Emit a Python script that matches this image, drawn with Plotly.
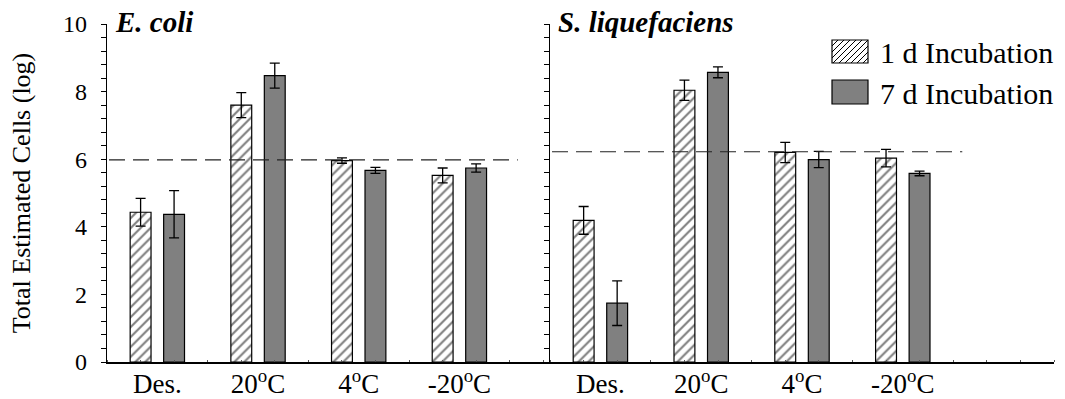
import plotly.graph_objects as go

# ---------------- data ----------------
categories = ["Des.", "20<sup>o</sup>C", "4<sup>o</sup>C", "-20<sup>o</sup>C"]
series_names = ["1 d Incubation", "7 d Incubation"]

ecoli_1d = [4.43, 7.60, 5.96, 5.52]
ecoli_1d_err = [0.41, 0.37, 0.08, 0.22]
ecoli_7d = [4.37, 8.47, 5.67, 5.74]
ecoli_7d_err = [0.70, 0.37, 0.09, 0.12]

sliq_1d = [4.19, 8.04, 6.20, 6.03]
sliq_1d_err = [0.41, 0.30, 0.30, 0.26]
sliq_7d = [1.74, 8.57, 5.99, 5.58]
sliq_7d_err = [0.66, 0.16, 0.24, 0.07]

ecoli_threshold = 5.98
sliq_threshold = 6.22

panel_titles = ["E. coli", "S. liquefaciens"]
y_title = "Total Estimated Cells (log)"
y_ticks = [0, 2, 4, 6, 8, 10]

# ---------------- styling ----------------
FONT = "Liberation Serif"
W, H = 1065, 399
ML, MR, MT, MB = 107, 11, 24, 37
PW, PH = W - ML - MR, H - MT - MB
GREY = "#808080"

xpos = list(range(len(categories)))


def px_x(p):
    return (p - ML) / PW


def px_y(p):
    return (H - MB - p) / PH


def hatched_bar(x, y, err, xa, ya, name):
    return go.Bar(
        x=x, y=y, name=name, xaxis=xa, yaxis=ya, showlegend=False,
        marker=dict(color="white", line=dict(color="black", width=1.2),
                    pattern=dict(shape="/", fgcolor="black", bgcolor="white",
                                 size=7, solidity=0.3)),
        error_y=dict(type="data", array=err, color="black", thickness=1.3, width=5),
    )


def grey_bar(x, y, err, xa, ya, name):
    return go.Bar(
        x=x, y=y, name=name, xaxis=xa, yaxis=ya, showlegend=False,
        marker=dict(color=GREY, line=dict(color="black", width=1.2)),
        error_y=dict(type="data", array=err, color="black", thickness=1.3, width=5),
    )


fig = go.Figure()
fig.add_trace(hatched_bar(xpos, ecoli_1d, ecoli_1d_err, "x", "y", series_names[0]))
fig.add_trace(grey_bar(xpos, ecoli_7d, ecoli_7d_err, "x", "y", series_names[1]))
fig.add_trace(hatched_bar(xpos, sliq_1d, sliq_1d_err, "x2", "y2", series_names[0]))
fig.add_trace(grey_bar(xpos, sliq_7d, sliq_7d_err, "x2", "y2", series_names[1]))

split = px_x(550)

xaxis_common = dict(
    tickmode="array", tickvals=xpos, ticktext=categories, ticks="",
    showline=True, linecolor="black", linewidth=1.5, zeroline=False,
    showgrid=False, tickfont=dict(family=FONT, size=27, color="black"),
    ticklabelstandoff=-3,
    minor=dict(tickmode="linear", tick0=-0.5, dtick=1 / 3, ticks="inside",
               ticklen=2, tickcolor="#555", tickwidth=1),
)
yaxis_common = dict(
    range=[0, 10], tickmode="array", tickvals=y_ticks, ticks="outside",
    ticklen=5, tickwidth=1, tickcolor="black", showline=True,
    linecolor="black", linewidth=1.2, zeroline=False, showgrid=False,
    minor=dict(dtick=0.4, ticks="outside", ticklen=5, tickcolor="black", tickwidth=1),
    tickfont=dict(family=FONT, size=24, color="black"),
)

fig.update_layout(
    width=W, height=H,
    margin=dict(l=ML, r=MR, t=MT, b=MB, autoexpand=False),
    paper_bgcolor="white", plot_bgcolor="white",
    barmode="group", bargap=0.335, bargroupgap=0.377,
    showlegend=False,
    xaxis=dict(domain=[0, split], range=[-0.5, 3.9], anchor="y", **xaxis_common),
    xaxis2=dict(domain=[split, 1], range=[-0.5, 4.5], anchor="y2", **xaxis_common),
    yaxis=dict(domain=[0, 1], anchor="x", showticklabels=True,
               title=dict(text=y_title, font=dict(family=FONT, size=26, color="black"),
                          standoff=24),
               ticklabelstandoff=9, **yaxis_common),
    yaxis2=dict(domain=[0, 1], anchor="x2", showticklabels=False, **yaxis_common),
)

# threshold dashed lines
for xr, yr, thr, xend in [("x", "y", ecoli_threshold, 3.58), ("x2", "y2", sliq_threshold, 3.59)]:
    fig.add_shape(type="line", xref=xr, yref=yr, x0=-0.48, x1=xend, y0=thr, y1=thr,
                  line=dict(color="#222", width=1.2, dash="16px,8px"), layer="above")

# panel titles
fig.add_annotation(text="<b><i>" + panel_titles[0] + "</i></b>", xref="paper", yref="paper",
                   x=px_x(113), y=px_y(22), xanchor="left", yanchor="middle", showarrow=False,
                   font=dict(family=FONT, size=29, color="black"))
fig.add_annotation(text="<b><i>" + panel_titles[1] + "</i></b>", xref="paper", yref="paper",
                   x=px_x(556), y=px_y(22), xanchor="left", yanchor="middle", showarrow=False,
                   font=dict(family=FONT, size=29, color="black"))

# custom legend (large swatches like the original)
leg_items = [(series_names[0], 40, 63, "hatch"), (series_names[1], 80, 104, "grey")]
bx0, bx1 = 832, 868
for name, ty, by, kind in leg_items:
    fill = "white" if kind == "hatch" else GREY
    fig.add_shape(type="rect", xref="paper", yref="paper",
                  x0=px_x(bx0), x1=px_x(bx1), y0=px_y(by), y1=px_y(ty),
                  fillcolor=fill, line=dict(color="black", width=1.2), layer="above")
    if kind == "hatch":
        step = 6
        hgt = by - ty
        s = bx0 - hgt + step
        while s < bx1:
            xa_, ya_ = s, by
            xb_, yb_ = s + hgt, ty
            if xa_ < bx0:
                ya_ = by - (bx0 - xa_)
                xa_ = bx0
            if xb_ > bx1:
                yb_ = ty + (xb_ - bx1)
                xb_ = bx1
            if xb_ > xa_:
                fig.add_shape(type="line", xref="paper", yref="paper",
                              x0=px_x(xa_), y0=px_y(ya_), x1=px_x(xb_), y1=px_y(yb_),
                              line=dict(color="black", width=1), layer="above")
            s += step
    fig.add_annotation(text=name, xref="paper", yref="paper",
                       x=px_x(878), y=px_y((ty + by) / 2 + 1), xanchor="left", yanchor="middle",
                       showarrow=False, font=dict(family=FONT, size=30, color="black"))

fig.write_html("out.html")
